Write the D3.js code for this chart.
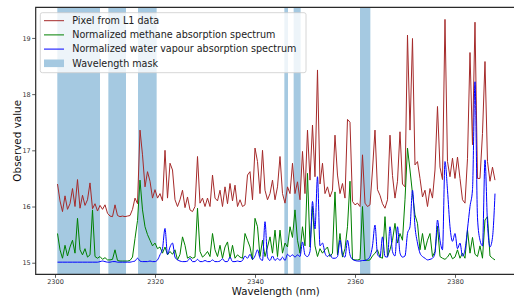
<!DOCTYPE html>
<html>
<head>
<meta charset="utf-8">
<script src="https://cdn.jsdelivr.net/npm/d3@7"></script>
<style>
  body { margin: 0; background: #fff; }
  svg { display: block; font-family: "DejaVu Sans", sans-serif; }
</style>
</head>
<body>
<div id="chart"></div>
<script>
// spectra sampled every 0.5 nm starting at 2300.5 nm
var startNm = 2300.5;
var stepNm = 0.5;

var pixelL1 = [
  16.40, 16.10, 15.91, 16.19, 15.95, 16.05, 16.32, 16.00, 16.48, 15.97,
  16.20, 16.02, 16.12, 16.42, 15.96, 16.05, 15.92, 16.02, 15.95, 16.03,
  15.88, 15.83, 15.82, 16.03, 15.84, 15.82, 15.83, 15.82, 15.83, 15.84,
  15.95, 16.15, 16.05, 17.36, 16.92, 16.35, 16.62, 16.45, 16.15, 16.30,
  16.15, 16.23, 16.10, 17.00, 16.15, 16.77, 16.65, 16.12, 16.00, 16.12,
  16.29, 15.98, 16.17, 15.94, 15.91, 16.00, 16.89, 16.06, 16.15, 16.00,
  16.15, 16.00, 16.56, 16.15, 16.10, 16.29, 16.00, 16.35, 16.05, 16.41,
  16.10, 16.38, 16.00, 16.12, 16.00, 16.03, 16.56, 16.62, 16.12, 17.04,
  16.80, 16.23, 17.00, 16.29, 16.12, 16.23, 16.47, 16.12, 16.35, 16.89,
  16.23, 16.06, 16.35, 16.23, 16.77, 16.23, 16.44, 16.12, 16.98, 16.23,
  17.36, 16.47, 17.45, 16.53, 18.43, 16.40, 16.77, 16.23, 16.35, 16.17,
  16.29, 17.27, 16.56, 16.23, 16.41, 16.15, 17.55, 17.50, 16.09, 16.03,
  16.06, 16.00, 16.92, 16.06, 16.00, 16.03, 16.65, 17.36, 16.30, 16.20,
  16.05, 15.97, 16.12, 17.27, 16.55, 16.15, 16.45, 17.33, 16.40, 16.35,
  19.05, 17.36, 18.99, 16.74, 16.80, 16.50, 16.17, 16.29, 16.00, 16.32,
  16.15, 16.65, 17.78, 16.70, 16.48, 19.33, 16.80, 16.53, 16.86, 16.50,
  16.88, 16.50, 16.12, 16.06, 16.85, 18.74, 17.10, 19.28, 16.50, 16.50,
  17.30, 18.58, 16.80, 16.45, 16.70, 16.47
];

var methane = [
  15.52, 15.23, 15.08, 15.31, 15.12, 15.28, 15.40, 15.17, 15.79, 15.23,
  15.14, 15.25, 15.10, 15.14, 15.94, 15.11, 15.08, 15.11, 15.06, 15.09,
  15.05, 15.05, 15.06, 15.23, 15.04, 15.03, 15.03, 15.03, 15.03, 15.04,
  15.10, 15.43, 15.75, 16.47, 15.94, 15.64, 15.50, 15.40, 15.30, 15.35,
  15.25, 15.28, 15.17, 15.28, 15.14, 15.20, 15.15, 15.23, 15.05, 15.15,
  15.46, 15.31, 15.08, 15.11, 15.08, 15.10, 15.97, 15.20, 15.10, 15.14,
  15.20, 15.11, 15.52, 15.23, 15.11, 15.31, 15.08, 15.28, 15.37, 15.08,
  15.31, 15.08, 15.14, 15.10, 15.08, 15.52, 15.40, 15.28, 15.05, 15.79,
  15.64, 15.11, 15.40, 15.11, 15.28, 15.46, 15.17, 15.58, 15.11, 15.58,
  15.17, 15.35, 15.28, 15.64, 15.45, 15.94, 15.40, 15.17, 15.64, 15.30,
  16.59, 15.28, 16.00, 15.30, 15.11, 15.25, 15.17, 15.23, 15.28, 15.11,
  15.17, 16.26, 15.14, 15.52, 15.10, 15.25, 15.64, 16.45, 15.06, 15.05,
  15.05, 15.06, 16.00, 15.05, 15.04, 15.05, 15.12, 15.17, 15.23, 15.10,
  15.08, 15.82, 15.11, 15.23, 15.40, 15.70, 15.35, 15.52, 15.40, 16.12,
  17.04, 16.65, 16.23, 15.85, 15.70, 15.23, 15.52, 15.23, 15.40, 15.52,
  15.11, 15.20, 15.65, 15.11, 15.08, 15.06, 15.10, 15.17, 15.07, 15.10,
  15.23, 15.08, 15.17, 15.08, 15.58, 15.17, 15.45, 15.15, 15.11, 15.30,
  15.08, 15.76, 15.82, 15.12, 15.08, 15.05
];

var waterVapour = [
  15.01, 15.01, 15.01, 15.01, 15.01, 15.01, 15.01, 15.01, 15.01, 15.01,
  15.01, 15.01, 15.01, 15.01, 15.01, 15.01, 15.01, 15.02, 15.03, 15.02,
  15.01, 15.01, 15.02, 15.02, 15.01, 15.01, 15.01, 15.01, 15.01, 15.01,
  15.02, 15.03, 15.08, 15.03, 15.02, 15.02, 15.02, 15.03, 15.02, 15.02,
  15.05, 15.14, 15.25, 15.61, 15.15, 15.28, 15.35, 15.10, 15.05, 15.03,
  15.02, 15.02, 15.03, 15.08, 15.02, 15.02, 15.06, 15.02, 15.02, 15.04,
  15.02, 15.02, 15.05, 15.02, 15.02, 15.03, 15.07, 15.02, 15.02, 15.10,
  15.02, 15.02, 15.03, 15.02, 15.04, 15.12, 15.08, 15.15, 15.06, 15.12,
  15.23, 15.08, 15.04, 15.73, 15.10, 15.04, 15.12, 15.04, 15.08, 15.04,
  15.10, 15.04, 15.15, 15.11, 15.14, 15.10, 15.14, 15.11, 15.37, 15.14,
  15.11, 15.20, 16.09, 15.60, 16.53, 15.30, 15.35, 15.17, 15.11, 15.15,
  15.08, 15.08, 15.11, 15.40, 15.14, 15.10, 15.40, 15.14, 15.06, 15.04,
  15.03, 15.03, 15.04, 15.04, 15.06, 15.11, 15.30, 15.67, 15.15, 15.10,
  15.46, 15.11, 15.10, 15.64, 15.20, 15.12, 15.64, 15.17, 15.10, 15.12,
  15.52, 15.64, 16.29, 15.64, 15.35, 15.17, 15.11, 15.08, 15.05, 15.06,
  15.08, 15.17, 15.76, 15.40, 15.23, 16.80, 16.29, 15.64, 15.38, 15.52,
  15.25, 15.35, 15.12, 15.23, 15.60, 16.00, 16.30, 18.22, 15.80, 15.40,
  15.30, 16.83, 15.70, 15.28, 15.45, 16.23
];

// masked wavelength windows (nm)
var maskStart = [2300.46, 2310.67, 2316.6, 2345.87, 2347.73, 2361.0];
var maskEnd   = [2309.0, 2314.2, 2320.33, 2346.6, 2349.13, 2363.07];

var xTicks = [2300, 2320, 2340, 2360, 2380];
var yTicks = [15, 16, 17, 18, 19];

var legendLabels = [
  "Pixel from L1 data",
  "Normalized methane absorption spectrum",
  "Normalized water vapour absorption spectrum",
  "Wavelength mask"
];
var seriesColors = ["#a52a2a", "green", "blue"];
var maskColor = "#a5c9e1";

var svgWidth = 514;
var svgHeight = 297;

var margin = {
  top: 7.3,
  right: -2,
  bottom: 22.7,
  left: 35.7
};

var width = svgWidth - margin.left - margin.right;
var height = svgHeight - margin.top - margin.bottom;

var svg = d3.select("#chart")
  .append("svg")
  .attr("width", svgWidth)
  .attr("height", svgHeight);

var chartGroup = svg.append("g")
  .attr("transform", `translate(${margin.left}, ${margin.top})`);

var xScale = d3.scaleLinear()
  .domain([2296.14, 2392.2])
  .range([0, width]);

var yScale = d3.scaleLinear()
  .domain([14.794, 19.545])
  .range([height, 0]);

var wavelengths = pixelL1.map((d, i) => startNm + i * stepNm);

// mask bands
chartGroup.selectAll(".mask")
  .data(maskStart)
  .enter()
  .append("rect")
  .attr("class", "mask")
  .attr("x", d => xScale(d))
  .attr("width", (d, i) => xScale(maskEnd[i]) - xScale(d))
  .attr("y", 0)
  .attr("height", height)
  .attr("fill", maskColor);

// spectra
var series = [pixelL1, methane, waterVapour];
series.forEach(function(values, k) {
  var line = d3.line()
    .x((d, i) => xScale(wavelengths[i]))
    .y(d => yScale(d))
    .curve(k === 2 ? d3.curveMonotoneX : d3.curveLinear);

  chartGroup.append("path")
    .datum(values)
    .attr("d", line)
    .attr("fill", "none")
    .attr("stroke", seriesColors[k])
    .attr("stroke-width", 1)
    .attr("stroke-linejoin", "round");
});

// axes
var xAxis = d3.axisBottom(xScale)
  .tickValues(xTicks)
  .tickSize(3.5)
  .tickPadding(1.5)
  .tickFormat(d3.format("d"));

var yAxis = d3.axisLeft(yScale)
  .tickValues(yTicks)
  .tickSize(3.5)
  .tickPadding(1.5)
  .tickFormat(d3.format("d"));

var gx = chartGroup.append("g")
  .attr("transform", `translate(0, ${height})`)
  .call(xAxis);

var gy = chartGroup.append("g")
  .call(yAxis);

[gx, gy].forEach(function(g) {
  g.select(".domain").remove();
  g.selectAll(".tick line").attr("stroke", "#333").attr("stroke-width", 0.8);
  g.selectAll(".tick text")
    .attr("fill", "#333")
    .style("font-size", "6.5px")
    .style("font-family", "DejaVu Sans");
});

// spines (left, top, bottom)
var spine = d3.path();
spine.moveTo(width, 0);
spine.lineTo(0, 0);
spine.lineTo(0, height);
spine.lineTo(width, height);
chartGroup.append("path")
  .attr("d", spine.toString())
  .attr("fill", "none")
  .attr("stroke", "#2a2a2a")
  .attr("stroke-width", 1.2);

// axis labels
chartGroup.append("text")
  .attr("transform", `translate(${20.5 - margin.left}, ${height / 2}) rotate(-90)`)
  .attr("text-anchor", "middle")
  .style("font-size", "10.4px")
  .attr("fill", "#111")
  .text("Observed value");

chartGroup.append("text")
  .attr("x", width / 2)
  .attr("y", 295 - margin.top)
  .attr("text-anchor", "middle")
  .style("font-size", "10.2px")
  .attr("fill", "#111")
  .text("Wavelength (nm)");

// legend
var legend = svg.append("g");
legend.append("rect")
  .attr("x", 40.3)
  .attr("y", 12.7)
  .attr("width", 265.7)
  .attr("height", 60)
  .attr("rx", 2)
  .attr("fill", "white")
  .attr("fill-opacity", 0.8)
  .attr("stroke", "#cccccc")
  .attr("stroke-width", 0.8);

var rowY = [20.7, 34.9, 49.1, 63.3];
legendLabels.forEach(function(label, i) {
  if (i < 3) {
    legend.append("line")
      .attr("x1", 44).attr("x2", 64)
      .attr("y1", rowY[i]).attr("y2", rowY[i])
      .attr("stroke", seriesColors[i])
      .attr("stroke-width", 1);
  } else {
    legend.append("rect")
      .attr("x", 44).attr("y", rowY[i] - 3.8)
      .attr("width", 20).attr("height", 7.6)
      .attr("fill", maskColor);
  }
  legend.append("text")
    .attr("x", 72.3)
    .attr("y", rowY[i])
    .attr("dy", "0.35em")
    .style("font-size", "9.6px")
    .attr("fill", "#222")
    .text(label);
});
</script>
</body>
</html>
